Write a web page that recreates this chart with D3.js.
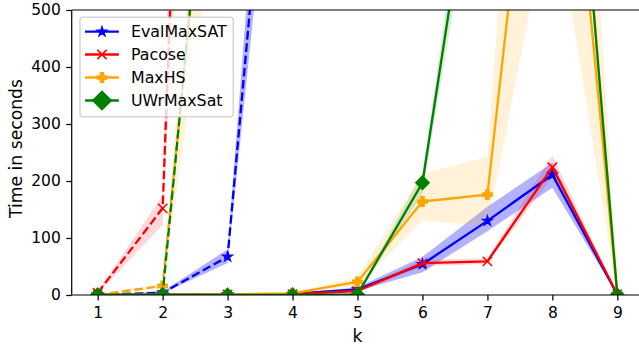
<!DOCTYPE html>
<html>
<head>
<meta charset="utf-8">
<script src="https://cdn.jsdelivr.net/npm/d3@7"></script>
<style>
  html, body { margin: 0; padding: 0; background: #fff; overflow: hidden; }
  svg { display: block; font-family: "DejaVu Sans", sans-serif; }
</style>
</head>
<body>
<svg id="chart" width="639" height="348"></svg>
<script>
// ---------------- data ----------------
const kValues = [1, 2, 3, 4, 5, 6, 7, 8, 9];
const xTicks = [1, 2, 3, 4, 5, 6, 7, 8, 9];
const yTicks = [0, 100, 200, 300, 400, 500];
const solverNames = ["EvalMaxSAT", "Pacose", "MaxHS", "UWrMaxSat"];

// solid series (k = 1..9)
const evalMaxSatMean = [0.3, 0.5, 1, 2, 10, 54, 130, 211, 1];
const evalMaxSatLow  = [0, 0.2, 0.5, 1, 7, 40, 112, 188, 0];
const evalMaxSatHigh = [0.6, 0.8, 1.5, 3, 13, 67, 155, 232, 3];

const pacoseMean = [0.3, 0.5, 0.8, 1.5, 7, 56, 59, 224, 1];
const pacoseLow  = [0, 0.2, 0.4, 1, 5, 50, 55, 207, 0];
const pacoseHigh = [0.6, 0.8, 1.2, 2, 9, 62, 64, 245, 3];

const maxHsMean = [0.5, 0.8, 1, 3, 23, 164, 176, 1190, 1];
const maxHsLow  = [0.2, 0.4, 0.5, 2, 16, 131, 120, 705, 0];
const maxHsHigh = [0.8, 1.2, 1.5, 4, 32, 212, 243, 1800, 40];

const uwrMaxSatMean = [0, 0, 0, 0, 1, 197, 936, 1370, 0];
const uwrMaxSatLow  = [0, 0, 0, 0, 0, 178, 860, 1300, 0];
const uwrMaxSatHigh = [0, 0, 0, 0, 3, 215, 1010, 1450, 0];

// dashed series
const evalMaxSatDashK    = [1, 2, 3, 4];
const evalMaxSatDashMean = [0.5, 4, 67, 1330];
const evalMaxSatDashLow  = [0, 3, 56, 1150];
const evalMaxSatDashHigh = [1, 6, 80, 1550];

const pacoseDashK    = [1, 2, 3];
const pacoseDashMean = [4, 152, 3200];
const pacoseDashLow  = [2, 123, 2400];
const pacoseDashHigh = [6, 175, 4600];

const maxHsDashK    = [1, 2, 3];
const maxHsDashMean = [0.5, 16, 1150];
const maxHsDashLow  = [0, 12, 810];
const maxHsDashHigh = [1, 19, 1380];

const uwrMaxSatDashK    = [1, 2, 3];
const uwrMaxSatDashMean = [0, 1, 1190];
const uwrMaxSatDashLow  = [0, 0, 1120];
const uwrMaxSatDashHigh = [0, 2, 1260];

// ---------------- styles ----------------
const colors = ["#0000ff", "#ff0000", "#ffa500", "#008000"];
const markerTypes = ["star", "x", "plus", "diamond"];
const bandAlpha = [0.3, 0.15, 0.15, 0.15];

const solid = [
  {k: kValues, m: evalMaxSatMean, lo: evalMaxSatLow, hi: evalMaxSatHigh},
  {k: kValues, m: pacoseMean, lo: pacoseLow, hi: pacoseHigh},
  {k: kValues, m: maxHsMean, lo: maxHsLow, hi: maxHsHigh},
  {k: kValues, m: uwrMaxSatMean, lo: uwrMaxSatLow, hi: uwrMaxSatHigh}
];
const dashed = [
  {k: evalMaxSatDashK, m: evalMaxSatDashMean, lo: evalMaxSatDashLow, hi: evalMaxSatDashHigh},
  {k: pacoseDashK, m: pacoseDashMean, lo: pacoseDashLow, hi: pacoseDashHigh},
  {k: maxHsDashK, m: maxHsDashMean, lo: maxHsDashLow, hi: maxHsDashHigh},
  {k: uwrMaxSatDashK, m: uwrMaxSatDashMean, lo: uwrMaxSatDashLow, hi: uwrMaxSatDashHigh}
];

const PT = 1.55;            // px per point
const FONT = 15.5;
const LABEL_FONT = 17.2;
const LW = 1.5 * PT;
const MS = 6 * PT;
const MEW = 1 * PT;

const svg = d3.select("#chart");
const L = 71.7, R = 643.3, T = 10, B = 295;
const x = d3.scaleLinear().domain([0.6, 9.4]).range([L, R]);
const y = d3.scaleLinear().domain([0, 500]).range([B, T]);

svg.append("defs").append("clipPath").attr("id", "plotclip")
  .append("rect").attr("x", L).attr("y", T).attr("width", R - L).attr("height", B - T);

const plot = svg.append("g").attr("clip-path", "url(#plotclip)");

function markerPath(type, s) {
  const h = s / 2;
  if (type === "star") {
    const pts = [];
    for (let i = 0; i < 10; i++) {
      const r = i % 2 === 0 ? h : h * 0.381966;
      const a = -Math.PI / 2 + i * Math.PI / 5;
      pts.push([r * Math.cos(a), r * Math.sin(a)]);
    }
    return "M" + pts.map(p => p.join(",")).join("L") + "Z";
  }
  if (type === "x") {
    return `M${-h},${-h}L${h},${h}M${-h},${h}L${h},${-h}`;
  }
  if (type === "plus") {
    const a = s / 6;
    return `M${-a},${-h}L${a},${-h}L${a},${-a}L${h},${-a}L${h},${a}L${a},${a}L${a},${h}L${-a},${h}L${-a},${a}L${-h},${a}L${-h},${-a}L${-a},${-a}Z`;
  }
  // diamond
  const r = s * Math.SQRT1_2;
  return `M0,${-r}L${r},0L0,${r}L${-r},0Z`;
}

// bands (drawn below all lines)
const area = d3.area().x(d => x(d.k)).y0(d => y(d.lo)).y1(d => y(d.hi));
function rows(s) { return s.k.map((k, i) => ({k: k, m: s.m[i], lo: s.lo[i], hi: s.hi[i]})); }

for (let i = 0; i < 4; i++) {
  [dashed[i], solid[i]].forEach(s => {
    plot.append("path").datum(rows(s)).attr("d", area)
      .attr("fill", colors[i]).attr("fill-opacity", bandAlpha[i]).attr("stroke", "none");
  });
}

const line = d3.line().x(d => x(d.k)).y(d => y(d.m));
function drawMarkers(g, data, i, s) {
  g.selectAll(null).data(data).enter().append("path")
    .attr("transform", d => `translate(${x(d.k)},${y(d.m)})`)
    .attr("d", markerPath(markerTypes[i], s))
    .attr("fill", markerTypes[i] === "x" ? "none" : colors[i])
    .attr("stroke", colors[i])
    .attr("stroke-width", MEW)
    .attr("stroke-linejoin", "miter");
}

for (let i = 0; i < 4; i++) {
  const dr = rows(dashed[i]);
  plot.append("path").datum(dr).attr("d", line)
    .attr("fill", "none").attr("stroke", colors[i]).attr("stroke-width", LW)
    .attr("stroke-dasharray", `${3.7 * LW},${1.6 * LW}`).attr("stroke-linejoin", "round");
  drawMarkers(plot, dr, i, MS);
  const sr = rows(solid[i]);
  plot.append("path").datum(sr).attr("d", line)
    .attr("fill", "none").attr("stroke", colors[i]).attr("stroke-width", LW)
    .attr("stroke-linejoin", "round").attr("stroke-linecap", "square");
  drawMarkers(plot, sr, i, MS);
}

// axes
const tickLen = 3.5 * PT;
const xAxis = d3.axisBottom(x).tickValues(xTicks).tickFormat(d3.format("d"))
  .tickSize(tickLen).tickPadding(3.5 * PT).tickSizeOuter(0);
const yAxis = d3.axisLeft(y).tickValues(yTicks).tickFormat(d3.format("d"))
  .tickSize(tickLen).tickPadding(3.5 * PT).tickSizeOuter(0);

const gx = svg.append("g").attr("transform", `translate(0,${B})`).call(xAxis);
const gy = svg.append("g").attr("transform", `translate(${L},0)`).call(yAxis);
[gx, gy].forEach(g => {
  g.select(".domain").remove();
  g.selectAll("line").attr("stroke", "#000").attr("stroke-width", 0.8 * PT);
  g.selectAll("text").attr("fill", "#000").style("font-size", FONT + "px")
    .style("font-family", "DejaVu Sans");
});
gx.selectAll("text").attr("dy", "0.78em");

// spines
const sp = svg.append("g").attr("stroke", "#000").attr("stroke-width", 0.8 * PT).attr("fill", "none");
sp.append("line").attr("x1", L).attr("x2", L).attr("y1", T).attr("y2", B);
sp.append("line").attr("x1", L).attr("x2", R).attr("y1", B).attr("y2", B);
sp.append("line").attr("x1", L).attr("x2", R).attr("y1", T).attr("y2", T);
sp.append("line").attr("x1", R).attr("x2", R).attr("y1", T).attr("y2", B);

// axis labels
svg.append("text").attr("x", (L + R) / 2).attr("y", 342).attr("text-anchor", "middle")
  .style("font-size", LABEL_FONT + "px").text("k");
svg.append("text").attr("transform", `translate(21.7,${(T + B) / 2 - 4}) rotate(-90)`)
  .attr("text-anchor", "middle").style("font-size", LABEL_FONT + "px").text("Time in seconds");

// legend
const lg = svg.append("g");
lg.append("rect").attr("x", 80).attr("y", 17.3).attr("width", 153.3).attr("height", 99.4)
  .attr("rx", 3).attr("fill", "#fff").attr("fill-opacity", 0.8)
  .attr("stroke", "#cccccc").attr("stroke-opacity", 0.8).attr("stroke-width", PT);
const rowY = [31.7, 54.5, 77.5, 100.5];
solverNames.forEach((name, i) => {
  const cy = rowY[i];
  lg.append("line").attr("x1", 86.2).attr("x2", 117.7).attr("y1", cy).attr("y2", cy)
    .attr("stroke", colors[i]).attr("stroke-width", LW).attr("stroke-linecap", "square");
  const s = markerTypes[i] === "diamond" ? MS * 1.4 : MS;
  lg.append("path").attr("transform", `translate(102,${cy})`)
    .attr("d", markerPath(markerTypes[i], s))
    .attr("fill", markerTypes[i] === "x" ? "none" : colors[i])
    .attr("stroke", colors[i]).attr("stroke-width", MEW);
  lg.append("text").attr("x", 131).attr("y", cy + 5.5)
    .style("font-size", (FONT + 0.3) + "px").attr("fill", "#000").text(name);
});
</script>
</body>
</html>
